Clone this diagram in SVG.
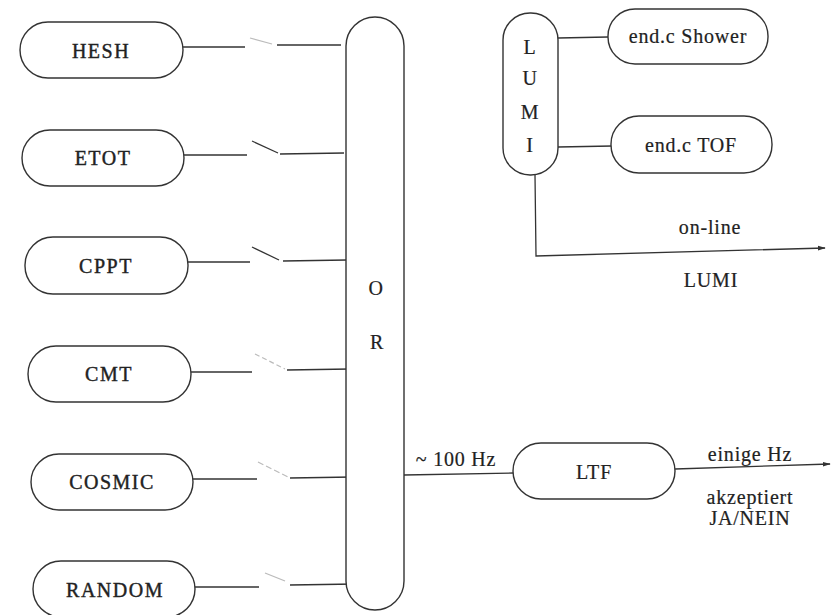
<svg xmlns="http://www.w3.org/2000/svg" width="834" height="615" viewBox="0 0 834 615">
<defs>
<style>
.box{fill:#fff;stroke:#333;stroke-width:1.4}
.ln{fill:none;stroke:#333;stroke-width:1.3}
.faint{fill:none;stroke:#bbb;stroke-width:1.2}
.lbl{font-family:"Liberation Serif",serif;font-size:20px;fill:#222;stroke:#222;stroke-width:0.4;text-anchor:middle;letter-spacing:1.5px}
.sm{font-family:"Liberation Serif",serif;font-size:20px;fill:#222;stroke:#222;stroke-width:0.2;text-anchor:middle;letter-spacing:0.8px}
</style>
<marker id="arr" viewBox="0 0 10 10" refX="9" refY="5" markerWidth="8" markerHeight="8" orient="auto" markerUnits="userSpaceOnUse">
<path d="M0,2 L10,5 L0,8 z" fill="#333"/>
</marker>
</defs>
<rect width="834" height="615" fill="#fff"/>
<g id="connectors">
<polyline class="ln" points="183,47 245,47"/>
<line class="faint" x1="250" y1="38" x2="272" y2="44"/>
<polyline class="ln" points="277,45 341,45"/>
<polyline class="ln" points="184,155 247,155"/>
<line class="ln" x1="252" y1="141" x2="278" y2="153"/>
<polyline class="ln" points="280,154 344,153"/>
<polyline class="ln" points="188,262 250,262"/>
<line class="ln" x1="252" y1="247" x2="279" y2="260"/>
<polyline class="ln" points="283,261 347,260"/>
<polyline class="ln" points="191,372 252,372"/>
<line class="faint" x1="255" y1="354" x2="285" y2="369" stroke-dasharray="5,3"/>
<polyline class="ln" points="287,370 350,369"/>
<polyline class="ln" points="193,479 257,479"/>
<line class="faint" x1="258" y1="462" x2="288" y2="477" stroke-dasharray="6,3"/>
<polyline class="ln" points="290,478 353,477"/>
<polyline class="ln" points="195,587 259,587"/>
<line class="faint" x1="265" y1="573" x2="285" y2="581"/>
<polyline class="ln" points="290,585 356,584"/>
<polyline class="ln" points="404,475 513,473"/>
<polyline class="ln" points="675,469 830,464" marker-end="url(#arr)"/>
<polyline class="ln" points="558,38 608,37"/>
<polyline class="ln" points="558,147 612,146"/>
<polyline class="ln" points="535,175 536,256 825,248" marker-end="url(#arr)"/>
</g>
<g id="HESH"><rect class="box" x="20" y="22" width="163" height="56" rx="28"/><text class="lbl" x="101" y="58">HESH</text></g>
<g id="ETOT"><rect class="box" x="22" y="130" width="162" height="56" rx="28"/><text class="lbl" x="103" y="165">ETOT</text></g>
<g id="CPPT"><rect class="box" x="25" y="237" width="163" height="57" rx="28"/><text class="lbl" x="106" y="273">CPPT</text></g>
<g id="CMT"><rect class="box" x="28" y="346" width="163" height="56" rx="28"/><text class="lbl" x="109" y="381">CMT</text></g>
<g id="COSMIC"><rect class="box" x="31" y="454" width="162" height="56" rx="28"/><text class="lbl" x="112" y="489">COSMIC</text></g>
<g id="RANDOM"><rect class="box" x="33" y="561" width="162" height="56" rx="28"/><text class="lbl" x="115" y="597">RANDOM</text></g>
<g id="OR"><rect class="box" x="346" y="17" width="58" height="593" rx="29"/><text class="sm" x="376" y="295">O</text><text class="sm" x="377" y="349">R</text></g>
<g id="LUMI-box"><rect class="box" x="503" y="13" width="55" height="162" rx="27"/>
<text class="sm" x="530" y="54">L</text><text class="sm" x="530" y="85">U</text><text class="sm" x="530" y="119">M</text><text class="sm" x="530" y="152">I</text></g>
<g id="shower"><rect class="box" x="608" y="9" width="160" height="55" rx="27"/><text class="sm" x="688" y="43">end.c Shower</text></g>
<g id="tof"><rect class="box" x="611" y="116" width="161" height="57" rx="28"/><text class="sm" x="691" y="152">end.c TOF</text></g>
<g id="LTF"><rect class="box" x="513" y="443" width="162" height="56" rx="28"/><text class="sm" x="594" y="479">LTF</text></g>
<g id="labels">
<text class="sm" x="710" y="234">on-line</text>
<text class="sm" x="711" y="287">LUMI</text>
<text class="sm" x="456" y="466">~ 100 Hz</text>
<text class="sm" x="750" y="461">einige Hz</text>
<text class="sm" x="750" y="504">akzeptiert</text>
<text class="sm" x="750" y="525">JA/NEIN</text>
</g>
</svg>
